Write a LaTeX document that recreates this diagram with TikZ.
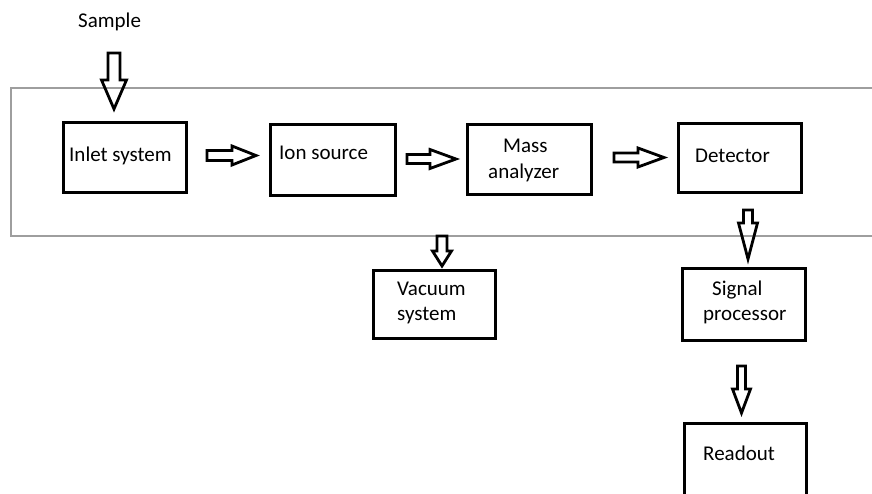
\documentclass[tikz,border=0pt]{standalone}
\usepackage{fontspec}
\setmainfont{Carlito}
\tikzset{
  box/.style={draw=black, line width=3pt, rectangle, inner sep=0pt},
  lbl/.style={anchor=base west, inner sep=0pt, font=\fontsize{21}{25.6}\selectfont, text=black},
  hollow/.style={draw=black, line width=2.8pt, line join=miter},
  frame/.style={draw=black!38, line width=1.5pt}
}
% block arrow: tail point, direction angle, length, head length, shaft half width, head half width
\newcommand\blockarrow[6]{%
  \begin{scope}[shift={#1}, rotate=#2]
    \draw[hollow] (0,-#5) -- ({#3-#4},-#5) -- ({#3-#4},-#6) -- (#3,0)
      -- ({#3-#4},#6) -- ({#3-#4},#5) -- (0,#5) -- cycle;
  \end{scope}}
\begin{document}
\begin{tikzpicture}[x=1pt, y=-1pt]
  \useasboundingbox (0,0) rectangle (872,493);
  \clip (0,0) rectangle (872,493);

  % instrument enclosure
  \draw[frame] (11,88) rectangle (910,236);

  % units
  \node[box, minimum width=123pt, minimum height=70pt] (inlet) at (125,157.5) {};
  \node[box, minimum width=125pt, minimum height=71pt] (ion) at (333,160) {};
  \node[box, minimum width=124pt, minimum height=70pt] (mass) at (529.5,159.5) {};
  \node[box, minimum width=123pt, minimum height=69pt] (det) at (740,158) {};
  \node[box, minimum width=123pt, minimum height=72pt] (sig) at (744,304.5) {};
  \node[box, minimum width=122pt, minimum height=68pt] (vac) at (434.5,304.5) {};
  \node[box, minimum width=122pt, minimum height=100pt] (read) at (745.5,473) {};

  % labels
  \node[lbl] (tsample) at (78,27) {Sample};
  \node[lbl] (tinlet) at (69,161) {Inlet system};
  \node[lbl] (tion) at (279,159) {Ion source};
  \node[lbl] (tmass1) at (503,152) {Mass};
  \node[lbl] (tmass2) at (488,178) {analyzer};
  \node[lbl] (tdet) at (695,162) {Detector};
  \node[lbl] (tsig1) at (712,295) {Signal};
  \node[lbl] (tsig2) at (703,320) {processor};
  \node[lbl] (tvac1) at (397,295) {Vacuum};
  \node[lbl] (tvac2) at (397,320) {system};
  \node[lbl] (tread) at (703,460) {Readout};

  % flow arrows
  \blockarrow{(114,53)}{-90}{56}{29}{6}{12.5}
  \blockarrow{(207,155.5)}{0}{49}{24}{5}{9.5}
  \blockarrow{(407,159)}{0}{49}{26}{4.5}{9.5}
  \blockarrow{(614,157.5)}{0}{50}{26}{4.5}{9.5}
  \blockarrow{(748,210)}{-90}{49}{36}{4.5}{9.5}
  \blockarrow{(741.5,366)}{-90}{47}{24}{4}{9}
  \blockarrow{(442,236)}{-90}{30}{15}{5}{9.5}
\end{tikzpicture}
\end{document}
